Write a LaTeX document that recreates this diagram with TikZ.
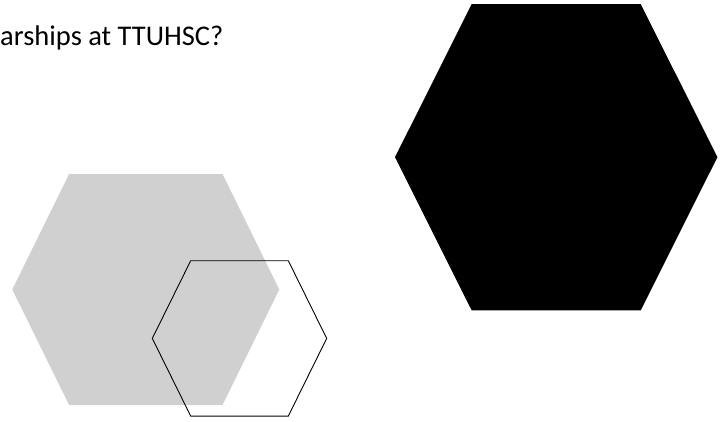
\documentclass[tikz,border=0pt]{standalone}
\usepackage{fontspec}
\setmainfont{Carlito}
\usepackage{xcolor}
\definecolor{HexGray}{RGB}{208,208,208}
\tikzset{
  hexgray/.style={fill=HexGray, draw=none},
  hexline/.style={draw=black, line width=0.9pt, line join=miter},
  hexblack/.style={fill=black, draw=none},
}
\begin{document}
\begin{tikzpicture}[x=1pt, y=-1pt]
  \useasboundingbox (0,0) rectangle (723,421);
  \node[anchor=base west, inner sep=0pt, font=\fontsize{28.5}{34}\selectfont] (title) at (0,45.7) {arships at TTUHSC?};
  % centre x / centre y / half width / half top edge / half height / style
  \foreach \cx/\cy/\hw/\tw/\hh/\sty in {145.8/289.5/133.5/76.7/115.5/hexgray,
      239.5/338.4/87.2/48.8/77.7/hexline,
      556.2/157.2/161.2/84.5/153.2/hexblack}{
    \path[\sty] (\cx-\hw,\cy) -- (\cx-\tw,\cy-\hh) -- (\cx+\tw,\cy-\hh)
      -- (\cx+\hw,\cy) -- (\cx+\tw,\cy+\hh) -- (\cx-\tw,\cy+\hh) -- cycle;
  }
\end{tikzpicture}
\end{document}
